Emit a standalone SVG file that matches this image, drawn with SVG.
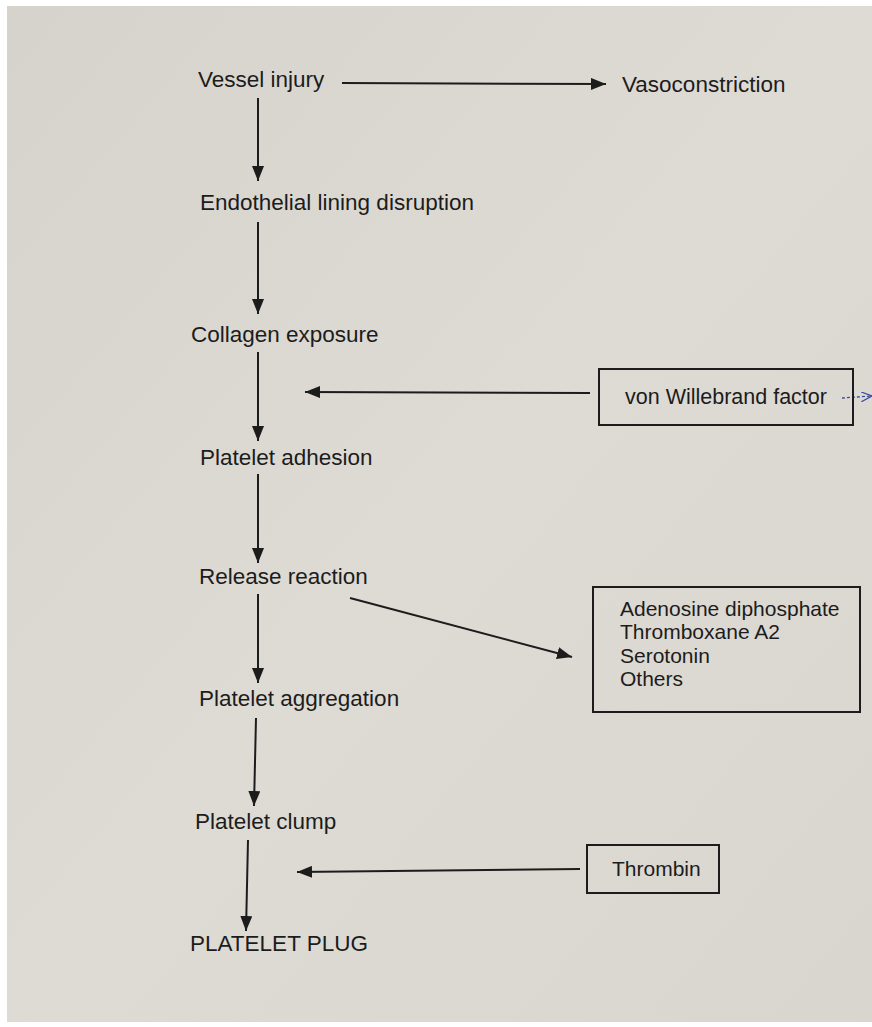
<svg xmlns="http://www.w3.org/2000/svg" width="872" height="1027" viewBox="0 0 872 1027">
<defs>
<linearGradient id="paper" x1="0" y1="0" x2="1" y2="1">
<stop offset="0" stop-color="#d6d3cc"/>
<stop offset="0.5" stop-color="#dedbd5"/>
<stop offset="1" stop-color="#d9d6cf"/>
</linearGradient>
<marker id="ah" markerUnits="userSpaceOnUse" markerWidth="16" markerHeight="12" refX="15" refY="6" orient="auto">
<path d="M0,0 L15,6 L0,12 Z" fill="#1c1c1c"/>
</marker>
<marker id="ahb" markerUnits="userSpaceOnUse" markerWidth="12" markerHeight="10" refX="11" refY="5" orient="auto">
<path d="M0,0 L11,5 L0,10" fill="none" stroke="#3a4aa0" stroke-width="1.3"/>
</marker>
</defs>
<style>
text{font-family:"Liberation Sans",Arial,sans-serif;fill:#1c1c1c;}
.t{font-size:22.5px;}
.b{font-size:21px;}
.c{stroke:#1c1c1c;stroke-width:2;fill:none;marker-end:url(#ah);}
.box{fill:none;stroke:#1c1c1c;stroke-width:2;}
</style>
<rect x="0" y="0" width="872" height="1027" fill="#ffffff"/>
<rect x="7" y="6" width="865" height="1016" fill="url(#paper)"/>
<g id="connectors">
<line class="c" x1="342" y1="83" x2="606" y2="84"/>
<line class="c" x1="258" y1="98" x2="258" y2="181"/>
<line class="c" x1="258" y1="222" x2="258" y2="314"/>
<line class="c" x1="258" y1="352" x2="258" y2="441"/>
<line class="c" x1="590" y1="393" x2="305" y2="392"/>
<line class="c" x1="258" y1="474" x2="258" y2="563"/>
<line class="c" x1="258" y1="594" x2="258" y2="683"/>
<line class="c" x1="350" y1="598" x2="572" y2="657"/>
<line class="c" x1="256" y1="718" x2="254" y2="806"/>
<line class="c" x1="248" y1="840" x2="246" y2="931"/>
<line class="c" x1="580" y1="869" x2="297" y2="872"/>
<path d="M842,398 L872,396" fill="none" stroke="#3a4aa0" stroke-width="1.3" stroke-dasharray="3,2" marker-end="url(#ahb)"/>
</g>
<g id="vessel-injury"><text class="t" x="198" y="87">Vessel injury</text></g>
<g id="vasoconstriction"><text class="t" x="622" y="92">Vasoconstriction</text></g>
<g id="endothelial"><text class="t" x="200" y="210">Endothelial lining disruption</text></g>
<g id="collagen"><text class="t" x="191" y="342">Collagen exposure</text></g>
<g id="vwf">
<rect class="box" x="599" y="369" width="254" height="56"/>
<text class="b" x="625" y="404" style="font-size:21.5px">von Willebrand factor</text>
</g>
<g id="adhesion"><text class="t" x="200" y="465">Platelet adhesion</text></g>
<g id="release"><text class="t" x="199" y="584">Release reaction</text></g>
<g id="mediators">
<rect class="box" x="593" y="587" width="267" height="125"/>
<text class="b" x="620" y="616">Adenosine diphosphate</text>
<text class="b" x="620" y="639">Thromboxane A2</text>
<text class="b" x="620" y="663">Serotonin</text>
<text class="b" x="620" y="686">Others</text>
</g>
<g id="aggregation"><text class="t" x="199" y="706">Platelet aggregation</text></g>
<g id="clump"><text class="t" x="195" y="829">Platelet clump</text></g>
<g id="thrombin">
<rect class="box" x="587" y="845" width="132" height="48"/>
<text class="b" x="612" y="876">Thrombin</text>
</g>
<g id="plug"><text class="t" x="190" y="951">PLATELET PLUG</text></g>
</svg>
